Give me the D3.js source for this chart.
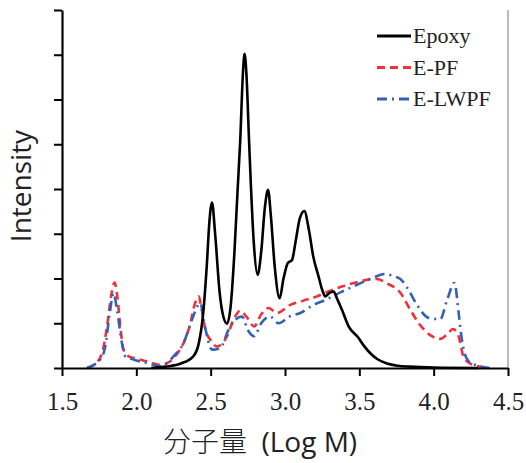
<!DOCTYPE html>
<html>
<head>
<meta charset="utf-8">
<script src="https://cdn.jsdelivr.net/npm/d3@7"></script>
<style>
  body { margin: 0; background: #fff; }
  .serif { font-family: "Liberation Serif", "Times New Roman", serif; }
</style>
</head>
<body>
<div id="chart"></div>
<script>
// [log M, intensity]
var epoxy = [
  [2.10,0],[2.20,0.03],[2.30,0.10],[2.383,0.26],[2.42,0.55],[2.45,1.23],[2.475,2.35],[2.49,3.2],
  [2.509,3.70],[2.53,3.0],[2.56,1.7],[2.585,1.15],[2.61,0.99],[2.635,1.4],[2.66,2.6],[2.68,3.9],
  [2.699,5.1],[2.717,6.59],[2.728,7.02],[2.74,6.6],[2.758,5.1],[2.771,4.05],[2.79,2.8],[2.816,2.08],
  [2.84,2.6],[2.865,3.6],[2.886,3.98],[2.905,3.4],[2.93,2.3],[2.964,1.56],[2.99,2.0],[3.02,2.35],
  [3.047,2.41],[3.07,2.8],[3.10,3.35],[3.13,3.51],[3.16,3.1],[3.19,2.49],[3.226,2.04],[3.25,1.75],
  [3.271,1.60],[3.30,1.68],[3.327,1.71],[3.35,1.55],[3.383,1.30],[3.428,0.93],[3.495,0.67],[3.53,0.50],
  [3.574,0.33],[3.62,0.20],[3.686,0.10],[3.76,0.05],[3.84,0.03],[4.0,0.01],[4.3,0]
];
var epf = [
  [1.668,0],[1.72,0.08],[1.769,0.33],[1.803,0.93],[1.83,1.6],[1.854,1.91],[1.872,1.6],[1.892,0.93],
  [1.914,0.41],[1.948,0.26],[2.0,0.21],[2.072,0.15],[2.161,0.07],[2.229,0.15],[2.27,0.3],[2.318,0.56],
  [2.36,0.95],[2.395,1.45],[2.419,1.60],[2.44,1.3],[2.465,0.85],[2.498,0.63],[2.543,0.48],[2.61,0.71],
  [2.654,1.08],[2.699,1.28],[2.74,1.15],[2.793,0.93],[2.84,1.2],[2.89,1.34],[2.946,1.23],[3.036,1.41],
  [3.12,1.50],[3.215,1.60],[3.30,1.72],[3.40,1.84],[3.50,1.93],[3.57,1.98],[3.619,1.99],[3.68,1.90],
  [3.776,1.68],[3.843,1.30],[3.90,1.00],[3.988,0.71],[4.044,0.65],[4.09,0.75],[4.13,0.87],[4.168,0.71],
  [4.2,0.26],[4.246,0.10],[4.30,0.04],[4.377,0]
];
var elwpf = [
  [1.668,0],[1.72,0.08],[1.76,0.2],[1.791,0.48],[1.82,1.2],[1.847,1.67],[1.87,1.3],[1.903,0.56],
  [1.926,0.26],[1.98,0.19],[2.072,0.11],[2.161,0.04],[2.25,0.26],[2.318,0.56],[2.374,1.08],[2.43,1.45],
  [2.46,0.95],[2.509,0.41],[2.565,0.45],[2.62,0.85],[2.666,1.08],[2.711,1.15],[2.75,0.85],[2.793,0.71],
  [2.84,1.0],[2.90,1.15],[2.957,1.00],[3.03,1.15],[3.103,1.23],[3.192,1.41],[3.27,1.52],[3.38,1.70],
  [3.484,1.86],[3.58,2.0],[3.674,2.10],[3.73,2.05],[3.776,1.99],[3.83,1.75],[3.888,1.41],[3.966,1.12],
  [4.044,1.09],[4.09,1.52],[4.14,1.90],[4.168,1.23],[4.19,0.63],[4.235,0.15],[4.30,0.05],[4.377,0]
];
var seriesNames = ["Epoxy", "E-PF", "E-LWPF"];
var xTicks = [1.5, 2.0, 2.5, 3.0, 3.5, 4.0, 4.5];
var yTicks = [0, 1, 2, 3, 4, 5, 6, 7, 8];

var margin = {top: 10, right: 18, bottom: 95, left: 62},
    width = 526 - margin.left - margin.right,
    height = 463 - margin.top - margin.bottom;

var svg = d3.select("#chart")
    .append("svg")
    .attr("width", 526)
    .attr("height", 463)
    .append("g")
    .attr("transform", "translate(" + margin.left + "," + margin.top + ")");

var x = d3.scaleLinear().domain([1.5, 4.5]).range([0, width]);
var y = d3.scaleLinear().domain([0, 8]).range([height, 0]);

// right frame line
svg.append("line")
    .attr("x1", width).attr("x2", width)
    .attr("y1", 0).attr("y2", height)
    .attr("stroke", "#777").attr("stroke-width", 1);

var line = d3.line()
    .x(function(d) { return x(d[0]); })
    .y(function(d) { return y(d[1]); })
    .curve(d3.curveMonotoneX);

var styles = [
    {data: epf, color: "#f0303a", dash: "8,5"},
    {data: elwpf, color: "#3560b4", dash: "10,5,2,5"},
    {data: epoxy, color: "#000", dash: null}
];
styles.forEach(function(s) {
    svg.append("path")
        .datum(s.data)
        .attr("fill", "none")
        .attr("stroke", s.color)
        .attr("stroke-width", 2.6)
        .attr("stroke-dasharray", s.dash)
        .attr("d", line);
});

// axes
var xAxis = svg.append("g")
    .attr("transform", "translate(0," + height + ")")
    .call(d3.axisBottom(x).tickValues(xTicks).tickFormat(d3.format(".1f")).tickSize(8).tickSizeOuter(0).tickPadding(16))
    .attr("font-family", "Liberation Serif")
    .attr("font-size", 25);
var yAxis = svg.append("g")
    .call(d3.axisLeft(y).tickValues(yTicks).tickFormat("").tickSize(8).tickSizeOuter(0));

[xAxis, yAxis].forEach(function(a) {
    a.select(".domain").attr("stroke", "#000").attr("stroke-width", 2.2);
    a.selectAll(".tick line").attr("stroke", "#000").attr("stroke-width", 2);
});
xAxis.selectAll(".tick text").attr("fill", "#222");

// legend
var legendColors = ["#000", "#f0303a", "#3560b4"];
var legendDash = [null, "8,5", "10,5,2,5"];
var legend = svg.selectAll(".legend")
    .data(seriesNames)
    .enter().append("g")
    .attr("class", "legend")
    .attr("transform", function(d, i) { return "translate(0," + (26 + i * 31.5) + ")"; });

legend.append("line")
    .attr("x1", 315).attr("x2", 349)
    .attr("stroke", function(d, i) { return legendColors[i]; })
    .attr("stroke-width", 2.8)
    .attr("stroke-dasharray", function(d, i) { return legendDash[i]; });

legend.append("text")
    .attr("class", "serif")
    .attr("x", 351)
    .attr("dy", "0.32em")
    .attr("font-size", 22)
    .attr("fill", "#222")
    .text(function(d) { return d; });

// y-axis title
svg.append("text")
    .attr("transform", "rotate(-90)")
    .attr("x", -176)
    .attr("y", -31)
    .attr("text-anchor", "middle")
    .style("font-family", "'Open Sans', sans-serif")
    .style("font-size", "28px")
    .attr("fill", "#222")
    .text("Intensity");

// x-axis title
var xt = svg.append("text")
    .attr("transform", "translate(" + (260 - margin.left) + "," + (452 - margin.top) + ")")
    .attr("text-anchor", "middle")
    .style("font-size", "28px")
    .attr("fill", "#222");
xt.append("tspan")
    .style("font-family", "'Noto Sans CJK SC', sans-serif")
    .style("font-weight", "300")
    .text("分子量");
xt.append("tspan")
    .style("font-family", "'Open Sans', sans-serif")
    .text("\u00a0\u00a0(Log M)");
</script>
</body>
</html>
